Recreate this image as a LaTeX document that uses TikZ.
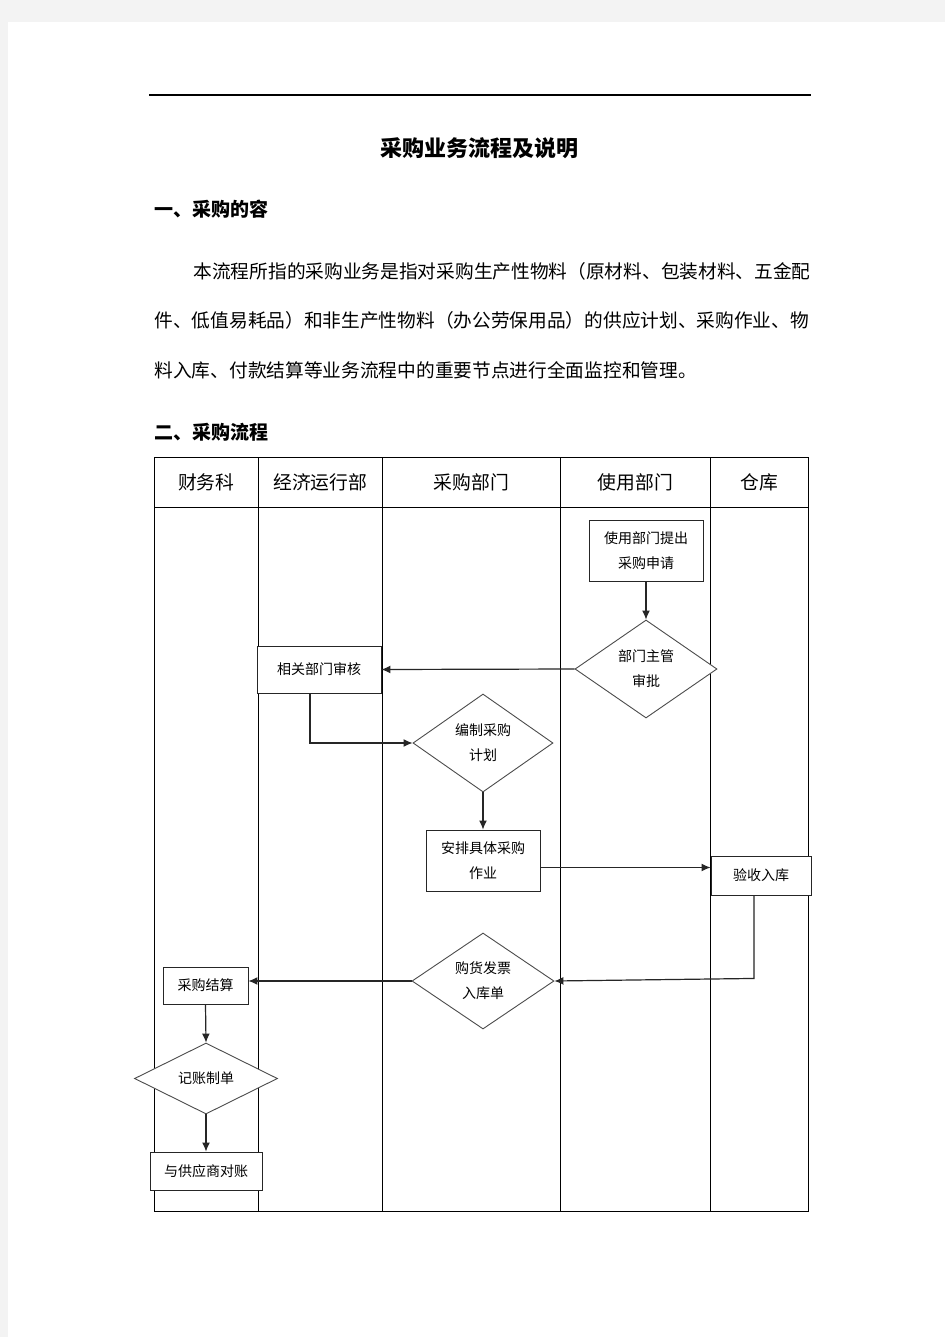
\documentclass[tikz,border=0pt]{standalone}
\usepackage{fontspec}
\setmainfont{Noto Sans CJK SC}
\usetikzlibrary{matrix,positioning,shapes.geometric,shadows,arrows.meta}
\definecolor{pagegray}{RGB}{243,243,243}
\newcommand\titlefont{\fontsize{22}{24}\selectfont\bfseries}
\newcommand\headfont{\fontsize{19}{21}\selectfont\bfseries}
\newcommand\bodyfont{\fontsize{18.7}{20}\selectfont}
\newcommand\lanefont{\fontsize{18.8}{20}\selectfont}
\newcommand\boxfont{\fontsize{14}{25}\selectfont}

\begin{document}
\begin{tikzpicture} [x=1pt, y=-1pt,
    procbox/.style={draw=black!85, line width=0.9pt, fill=white, inner sep=0,
      align=center, font=\boxfont,
      drop shadow={shadow xshift=1.2pt, shadow yshift=-1.2pt, fill=black!70, opacity=1}},
    decision/.style={diamond, draw=black!70, line width=0.9pt, fill=white, inner sep=0,
      align=center, font=\boxfont},
    flow/.style={draw=black!85, line width=1.2pt, -{Latex[length=9pt, width=8pt]}}]
  \useasboundingbox (0,0) rectangle (945,1337);
  \fill[pagegray] (0,0) rectangle (945,1337);
  \fill[white] (8,22) rectangle (945,1337);
  \draw[line width=1.2pt] (149,95) -- (811,95);
  \node[font=\titlefont] (title) at (479,148) {采购业务流程及说明};
  \node[anchor=west, font=\headfont] (head1) at (151,209) {一、采购的容};
  \node[anchor=west, font=\bodyfont] (para1) at (190,271)
    {本流程所指的采购业务是指对采购生产性物料（原材料、包装材料、五金配};
  \node[anchor=west, font=\bodyfont] (para2) at (151,320)
    {件、低值易耗品）和非生产性物料（办公劳保用品）的供应计划、采购作业、物};
  \node[anchor=west, font=\bodyfont] (para3) at (151,370)
    {料入库、付款结算等业务流程中的重要节点进行全面监控和管理。};
  \node[anchor=west, font=\headfont] (head2) at (151,432) {二、采购流程};
  \matrix (lanes) [matrix of nodes, nodes in empty cells, anchor=north west,
          inner sep=0pt, row sep=-0.8pt, column sep=-0.8pt,
          nodes={draw, line width=0.8pt, inner sep=0, font=\lanefont},
          row 1/.style={nodes={minimum height=50pt}},
          row 2/.style={nodes={minimum height=704pt}},
          column 1/.style={nodes={minimum width=104pt}},
          column 2/.style={nodes={minimum width=124pt}},
          column 3/.style={nodes={minimum width=178pt}},
          column 4/.style={nodes={minimum width=150pt}},
          column 5/.style={nodes={minimum width=98pt}}] at (153.6,456.6) {
    财务科 & 经济运行部 & 采购部门 & 使用部门 & 仓库\\
    &&&&\\
  };
  \node[procbox, minimum width=114pt, minimum height=61pt] (apply) at (646,550.5)
    {使用部门提出\\采购申请};
  \node[decision, minimum width=142pt, minimum height=98pt] (approve) at (646,669)
    {部门主管\\审批};
  \node[procbox, minimum width=124pt, minimum height=47pt] (review) at (319,669.5)
    {相关部门审核};
  \node[decision, minimum width=140pt, minimum height=98pt] (plan) at (483,743)
    {编制采购\\计划};
  \node[procbox, minimum width=114pt, minimum height=61pt] (arrange) at (483,860.5)
    {安排具体采购\\作业};
  \node[procbox, minimum width=100pt, minimum height=39pt] (receive) at (761,875.5)
    {验收入库};
  \node[decision, minimum width=142pt, minimum height=96pt] (invoice) at (483,981)
    {购货发票\\入库单};
  \node[procbox, minimum width=85pt, minimum height=37pt] (settle) at (205.5,985.5)
    {采购结算};
  \node[decision, minimum width=143pt, minimum height=71pt] (record) at (206,1078.5)
    {记账制单};
  \node[procbox, minimum width=112pt, minimum height=38pt] (reconcile) at (206,1171)
    {与供应商对账};
  \draw[flow] (apply) -- (approve);
  \draw[flow] (approve.west) -- (review.east);
  \draw[flow] ([xshift=-9pt]review.south) |- (plan.west);
  \draw[flow] (plan.south) -- (arrange.north);
  \draw[flow] ([yshift=-7pt]arrange.east) -- ([yshift=-7pt]arrange.east -| receive.west);
  \draw[flow] ([xshift=-7pt]receive.south) -- ++(0,83) -- (invoice.east);
  \draw[flow] (invoice.west) -- (invoice.west -| settle.east);
  \draw[flow] (settle.south) -- (record.north);
  \draw[flow] (record.south) -- (reconcile.north);
\end{tikzpicture}
\end{document}
